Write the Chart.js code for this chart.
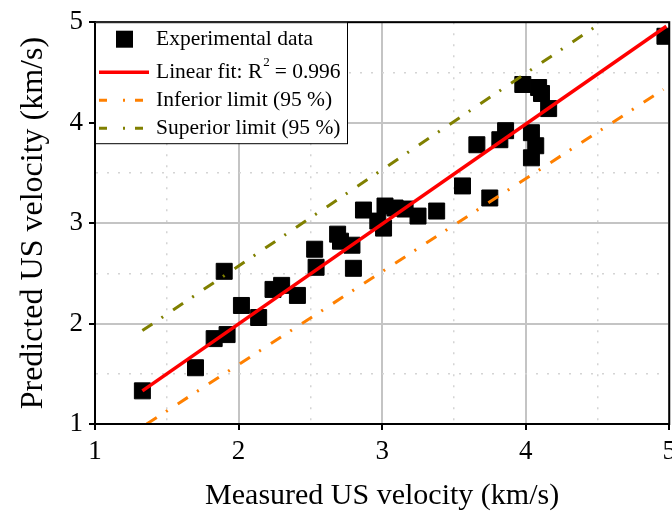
<!DOCTYPE html>
<html>
<head>
<meta charset="utf-8">
<script src="https://cdn.jsdelivr.net/npm/chart.js@4"></script>
<style>
  html, body { margin: 0; background: #fff; overflow: hidden; }
  #wrap { width: 672px; height: 514px; overflow: hidden; }
</style>
</head>
<body>
<div id="wrap"><canvas id="myChart" width="682" height="514"></canvas></div>
<script>
// experimental data (measured vs predicted, km/s)
var measuredX = [1.33, 1.70, 1.83, 1.92, 1.90, 2.02, 2.14, 2.24, 2.30, 2.41, 2.53, 2.54, 2.69, 2.71, 2.79, 2.80, 2.87, 2.97, 3.01, 3.02, 3.09, 3.16, 3.25, 3.38, 3.56, 3.75, 3.66, 3.82, 3.86, 3.98, 4.09, 4.11, 4.16, 4.04, 4.07, 4.04, 4.97];
var predictedY = [1.33, 1.56, 1.85, 1.89, 2.52, 2.18, 2.06, 2.34, 2.38, 2.28, 2.74, 2.56, 2.89, 2.82, 2.78, 2.55, 3.13, 3.02, 2.95, 3.17, 3.15, 3.14, 3.07, 3.12, 3.37, 3.25, 3.78, 3.83, 3.92, 4.38, 4.35, 4.29, 4.14, 3.90, 3.77, 3.65, 4.86];

// fit and 95 % limits (end points)
var fitX = [1.33, 4.98];
var fitY = [1.33, 4.96];
var infX = [1.36, 4.96];
var infY = [1.00, 4.33];
var supX = [1.33, 4.50];
var supY = [1.93, 4.97];

var r2 = '0.996';
var legendLabels = ['Experimental data', 'Linear fit: R', 'Inferior limit (95 %)', 'Superior limit (95 %)'];
var axisTicks = [1, 2, 3, 4, 5];

var toPoints = (xs, ys) => xs.map((x, i) => ({x: x, y: ys[i]}));
var isMajor = v => axisTicks.indexOf(v) !== -1;

var serif = "'Liberation Serif', 'Times New Roman', serif";

var framePlugin = {
    id: 'frame',
    afterDatasetsDraw(chart) {
        var {ctx, chartArea: a} = chart;
        ctx.save();
        ctx.strokeStyle = '#000';
        ctx.lineWidth = 2;
        ctx.strokeRect(a.left, a.top, a.right - a.left, a.bottom - a.top);
        ctx.restore();
    }
};

var legendPlugin = {
    id: 'boxLegend',
    afterDraw(chart) {
        var {ctx, chartArea: a} = chart;
        var x0 = a.left, y0 = a.top;
        var rows = [17, 50, 78, 106];
        ctx.save();
        ctx.fillStyle = '#fff';
        ctx.fillRect(x0, y0, 252, 121);
        ctx.strokeStyle = '#000';
        ctx.lineWidth = 1;
        ctx.strokeRect(x0 + 0.5, y0 + 0.5, 252, 121);

        var ds = chart.data.datasets;
        // square marker
        ctx.fillStyle = ds[0].backgroundColor;
        ctx.fillRect(x0 + 21, y0 + rows[0] - 8.5, 17, 17);
        // lines
        for (var i = 1; i < 4; i++) {
            ctx.beginPath();
            ctx.strokeStyle = ds[i].borderColor;
            ctx.lineWidth = ds[i].borderWidth;
            ctx.setLineDash(i === 1 ? [] : [8, 16, 2, 10]);
            ctx.moveTo(x0 + 4, y0 + rows[i]);
            ctx.lineTo(x0 + 54, y0 + rows[i]);
            ctx.stroke();
        }
        ctx.setLineDash([]);

        ctx.fillStyle = '#000';
        ctx.textBaseline = 'middle';
        ctx.font = '21.5px ' + serif;
        var tx = x0 + 61;
        ctx.fillText(legendLabels[0], tx, y0 + rows[0]);
        ctx.fillText(legendLabels[1], tx, y0 + rows[1]);
        var w = ctx.measureText(legendLabels[1]).width;
        ctx.font = '13px ' + serif;
        ctx.fillText('2', tx + w + 1, y0 + rows[1] - 10);
        ctx.font = '21.5px ' + serif;
        ctx.fillText(' = ' + r2, tx + w + 7, y0 + rows[1]);
        ctx.fillText(legendLabels[2], tx, y0 + rows[2]);
        ctx.fillText(legendLabels[3], tx, y0 + rows[3]);
        ctx.restore();
    }
};

var gridOpts = {
    color: c => isMajor(c.tick && c.tick.value) ? '#c4c4c4' : '#d4d4d4',
    lineWidth: c => isMajor(c.tick && c.tick.value) ? 2 : 1.5,
    tickLength: 6,
    tickColor: c => isMajor(c.tick && c.tick.value) ? '#000' : 'rgba(0,0,0,0)',
    tickWidth: 2
};
var borderOpts = {
    display: true,
    color: '#000',
    width: 2,
    dash: c => (c.tick && !isMajor(c.tick.value)) ? [2, 9] : []
};
var tickOpts = {
    stepSize: 0.5,
    color: '#000',
    padding: 6,
    maxRotation: 0,
    autoSkip: false,
    font: {family: serif, size: 27},
    callback: v => isMajor(v) ? String(v) : ''
};

var ctx = document.getElementById('myChart').getContext('2d');
var chart = new Chart(ctx, {
    type: 'scatter',
    data: {
        datasets: [{
            label: legendLabels[0],
            data: toPoints(measuredX, predictedY),
            pointStyle: 'rect',
            pointRadius: 11.3,
            pointHoverRadius: 11.3,
            backgroundColor: '#000',
            borderColor: '#000',
            borderWidth: 1,
            order: 5,
        }, {
            label: legendLabels[1],
            data: toPoints(fitX, fitY),
            showLine: true,
            pointRadius: 0,
            borderColor: '#ff0000',
            borderWidth: 3.5,
            order: 1,
        }, {
            label: legendLabels[2],
            data: toPoints(infX, infY),
            showLine: true,
            pointRadius: 0,
            borderColor: '#ff8000',
            borderWidth: 3,
            borderDash: [12, 11, 2, 12],
            order: 2,
        }, {
            label: legendLabels[3],
            data: toPoints(supX, supY),
            showLine: true,
            pointRadius: 0,
            borderColor: '#808000',
            borderWidth: 3,
            borderDash: [12, 11, 2, 12],
            order: 3,
        }],
    },
    options: {
        responsive: false,
        animation: false,
        layout: {padding: {top: 20, right: 3, left: 0, bottom: 0}},
        plugins: {
            legend: {display: false},
            tooltip: {enabled: false},
        },
        scales: {
            x: {
                type: 'linear',
                min: 1,
                max: 5,
                ticks: tickOpts,
                grid: gridOpts,
                border: borderOpts,
                title: {
                    display: true,
                    text: 'Measured US velocity (km/s)',
                    color: '#000',
                    font: {family: serif, size: 30},
                    padding: {top: 5, bottom: 0},
                },
                afterFit: s => { s.height = 90; },
            },
            y: {
                type: 'linear',
                min: 1,
                max: 5,
                ticks: tickOpts,
                grid: gridOpts,
                border: borderOpts,
                title: {
                    display: true,
                    text: 'Predicted US velocity (km/s)',
                    color: '#000',
                    font: {family: serif, size: 32},
                    padding: {top: 14, bottom: 0},
                },
                afterFit: s => { s.width = 95; },
            },
        },
    },
    plugins: [framePlugin, legendPlugin],
});
</script>
</body>
</html>
